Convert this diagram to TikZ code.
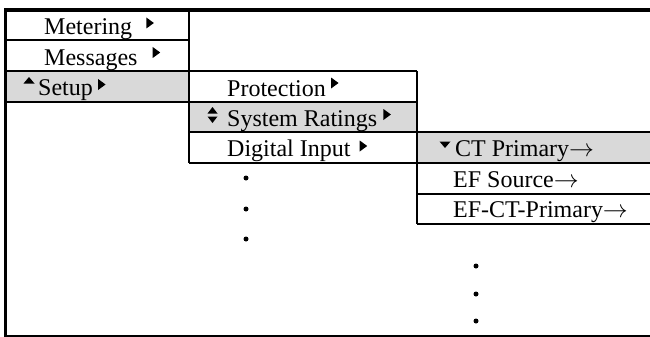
\documentclass[tikz,border=0pt]{standalone}
\usepackage{fontspec}
\setmainfont{Liberation Serif}
\usetikzlibrary{positioning}
\definecolor{menugray}{RGB}{217,217,217}

\begin{document}
\begin{tikzpicture}[x=1pt,y=-1pt,
        item/.style={anchor=base west, inner sep=0pt, font=\fontsize{24}{24}\selectfont},
        rule/.style={line width=2pt},
        rtri/.pic={\fill (0,-5.5) -- (7.5,0) -- (0,5.5) -- cycle;},
        utri/.pic={\fill (-5.5,3) -- (5.5,3) -- (0,-3.5) -- cycle;},
        dtri/.pic={\fill (-5.5,-3) -- (5.5,-3) -- (0,3.5) -- cycle;},
        udtri/.pic={\fill (-5,-1.5) -- (5,-1.5) -- (0,-8) -- cycle;
                \fill (-5,1.5) -- (5,1.5) -- (0,8) -- cycle;}]
        \useasboundingbox (0,0) rectangle (650,337);
        % Selected rows
        \fill[menugray] (7,71) rectangle (189,101.5);
        \fill[menugray] (189,101.5) rectangle (417,132);
        \fill[menugray] (417,132) rectangle (650,163);
        % Frame
        \draw[line width=3.4pt] (650,10) -- (5.7,10) -- (5.7,337);
        \draw[rule] (5.7,335.5) -- (650,335.5);
        % Menu grid
        \draw[rule] (189,10) -- (189,163);
        \draw[rule] (417,71) -- (417,224);
        \draw[rule] (5.7,40.5) -- (189,40.5);
        \foreach \y in {71,101.5} {
                \draw[rule] (5.7,\y) -- (417,\y);
            }
        \foreach \y in {132,163} {
                \draw[rule] (189,\y) -- (650,\y);
            }
        \foreach \y in {193.5,224} {
                \draw[rule] (417,\y) -- (650,\y);
            }
        % Level 1
        \node[item] (metering) at (44,35) {Metering};
        \node[item] (messages) at (44,65.5) {Messages};
        \node[item] (setup) at (38,95.5) {Setup};
        \path (metering.base east) ++(14,-12) pic{rtri};
        \path (messages.base east) ++(15,-13) pic{rtri};
        \path (setup.base west) ++(-9,-15) pic{utri};
        \path (setup.base east) ++(5,-11) pic{rtri};
        % Level 2
        \node[item] (protection) at (227,96) {Protection};
        \node[item] (ratings) at (227,126.5) {System Ratings};
        \node[item] (digital) at (227,156.5) {Digital Input};
        \path (protection.base east) ++(5,-13) pic{rtri};
        \path (ratings.base west) ++(-14.5,-11.5) pic{udtri};
        \path (ratings.base east) ++(6,-12) pic{rtri};
        \path (digital.base east) ++(9,-10.5) pic{rtri};
        % Level 3
        \node[item] (ctprim) at (455,156.5) {CT Primary$\rightarrow$};
        \node[item] (efsource) at (453,187) {EF Source$\rightarrow$};
        \node[item] (efctprim) at (453,217.5) {EF-CT-Primary$\rightarrow$};
        \path (ctprim.base west) ++(-10,-12) pic{dtri};
        % More items
        \foreach \y in {178,209,239} {
                \fill (246,\y) circle (2.5pt);
            }
        \foreach \y in {266,294,321} {
                \fill (476,\y) circle (2.5pt);
            }
    \end{tikzpicture}
\end{document}
